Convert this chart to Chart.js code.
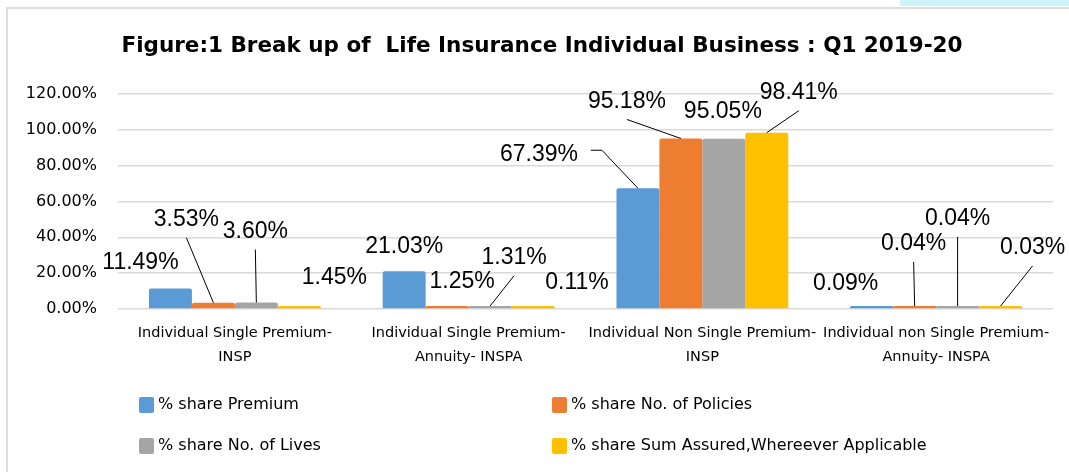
<!DOCTYPE html>
<html>
<head>
<meta charset="utf-8">
<title>Figure 1 - Break up of Life Insurance Individual Business Q1 2019-20</title>
<script src="https://cdn.jsdelivr.net/npm/chart.js@4.4.1/dist/chart.umd.min.js"></script>
<style>
  html, body { margin: 0; padding: 0; background: #fff; }
  #wrap { position: relative; width: 1069px; height: 472px; overflow: hidden; }
  #frame { position: absolute; left: 6px; top: 7px; width: 1100px; height: 500px;
           border-left: 2px solid #dcdcdc; border-top: 2px solid #dcdcdc; }
  #strip { position: absolute; left: 900px; top: 0; width: 169px; height: 6px; background: #cdf5f9; }
  #grafica { position: absolute; left: 0; top: 0; }
</style>
</head>
<body>
<div id="wrap">
  <div id="strip"></div>
  <div id="frame"></div>
  <canvas id="grafica" width="1069" height="472"></canvas>
</div>
<script>
// ---------------------------------------------
// Datos (en %)
// ---------------------------------------------
const categorias = [
    ['Individual Single Premium-', 'INSP'],
    ['Individual Single Premium-', 'Annuity- INSPA'],
    ['Individual Non Single Premium-', 'INSP'],
    ['Individual non Single Premium-', 'Annuity- INSPA']
];
const sharePremium    = [11.49, 21.03, 67.39, 0.09];
const sharePolicies   = [3.53, 1.25, 95.18, 0.04];
const shareLives      = [3.60, 1.31, 95.05, 0.04];
const shareSumAssured = [1.45, 0.11, 98.41, 0.03];

const nombresSeries = [
    '% share Premium',
    '% share No. of Policies',
    '% share No. of Lives',
    '% share Sum Assured,Whereever Applicable'
];
const coloresSeries = ['#5B9BD5', '#ED7D31', '#A5A5A5', '#FFC000'];

const yMin = 0, yMax = 120, yStep = 20;
const titulo = 'Figure:1 Break up of  Life Insurance Individual Business : Q1 2019-20';

// Colocación de etiquetas (px respecto a la parte superior de la barra) y tipo de línea guía
const posEtiquetas = [
    [[-30, -26, ''],     [0, -25, ''],      [-99, -34, 'side'], [-26, -25, '']],
    [[-27, -83, 'down'], [15, -25, ''],     [-54, -37, 'down'], [-1, -65, 'down']],
    [[-1, -71, 'down'],  [24, -49, 'down'], [-1, -27, ''],      [0, -90, 'down']],
    [[35, -29, ''],      [44, -26, ''],     [32, -40, 'down'],  [32, -61, 'down']]
];

const seriesDatos = [sharePremium, sharePolicies, shareLives, shareSumAssured];

// ---------------------------------------------
// Plugins: título, etiquetas de datos, leyenda
// ---------------------------------------------
const pluginTitulo = {
    id: 'titulo',
    afterDraw(chart) {
        const ctx = chart.ctx;
        ctx.save();
        ctx.font = 'bold 21.5px "DejaVu Sans"';
        ctx.fillStyle = '#000';
        ctx.textAlign = 'center';
        ctx.textBaseline = 'middle';
        ctx.fillText(titulo, 542, 46);
        ctx.restore();
    }
};

const pluginEtiquetas = {
    id: 'etiquetas',
    afterDatasetsDraw(chart) {
        const ctx = chart.ctx;
        const yScale = chart.scales.y;
        ctx.save();
        ctx.font = '23px "Liberation Sans"';
        ctx.fillStyle = '#000';
        ctx.strokeStyle = '#000';
        ctx.lineWidth = 1;
        ctx.textAlign = 'center';
        ctx.textBaseline = 'middle';
        chart.data.datasets.forEach((ds, i) => {
            const meta = chart.getDatasetMeta(i);
            meta.data.forEach((bar, j) => {
                const [dx, dy, guia] = posEtiquetas[i][j];
                const baseY = yScale.getPixelForValue(ds.data[j]);
                const lx = bar.x + dx;
                const ly = baseY + dy;
                ctx.fillText(ds.data[j].toFixed(2) + '%', lx, ly);
                if (guia === 'down') {
                    ctx.beginPath();
                    ctx.moveTo(lx, ly + 18);
                    ctx.lineTo(bar.x, bar.y);
                    ctx.stroke();
                } else if (guia === 'side') {
                    ctx.beginPath();
                    ctx.moveTo(lx + 52, ly - 4);
                    ctx.lineTo(lx + 63, ly - 4);
                    ctx.lineTo(bar.x, bar.y);
                    ctx.stroke();
                }
            });
        });
        ctx.restore();
    }
};

const pluginLeyenda = {
    id: 'leyenda',
    afterDraw(chart) {
        const ctx = chart.ctx;
        const columnas = [139, 552];
        const filas = [405, 446];
        ctx.save();
        ctx.font = '16px "DejaVu Sans"';
        ctx.textAlign = 'left';
        ctx.textBaseline = 'middle';
        chart.data.datasets.forEach((ds, i) => {
            const x = columnas[i % 2];
            const y = filas[Math.floor(i / 2)];
            ctx.fillStyle = ds.backgroundColor;
            ctx.beginPath();
            ctx.roundRect(x, y - 8, 15, 16, 2);
            ctx.fill();
            ctx.fillStyle = '#000';
            ctx.fillText(ds.label, x + 19, y);
        });
        ctx.restore();
    }
};

// ---------------------------------------------
// Gráfica
// ---------------------------------------------
const ctx = document.getElementById('grafica').getContext('2d');
new Chart(ctx, {
    type: 'bar',
    data: {
        labels: categorias,
        datasets: seriesDatos.map((d, i) => ({
            label: nombresSeries[i],
            data: d,
            backgroundColor: coloresSeries[i],
            borderRadius: 2,
            minBarLength: 3,
            categoryPercentage: 0.735,
            barPercentage: 1.0
        }))
    },
    options: {
        responsive: false,
        animation: false,
        layout: { padding: { top: 94, right: 16, left: 0, bottom: 0 } },
        scales: {
            x: {
                grid: { display: false, drawTicks: false },
                border: { display: false },
                ticks: {
                    autoSkip: false,
                    maxRotation: 0,
                    minRotation: 0,
                    padding: 13,
                    color: '#000',
                    font: { family: '"DejaVu Sans"', size: 14.5, lineHeight: 1.6 }
                },
                afterFit: s => { s.height = 163; }
            },
            y: {
                min: yMin,
                max: yMax,
                grid: { color: '#d9d9d9', lineWidth: 1.5, drawTicks: false },
                border: { display: false },
                ticks: {
                    stepSize: yStep,
                    padding: 21,
                    color: '#000',
                    font: { family: '"DejaVu Sans"', size: 16 },
                    callback: v => v.toFixed(2) + '%'
                },
                afterFit: s => { s.width = 118; }
            }
        },
        plugins: {
            legend: { display: false },
            tooltip: { enabled: false },
            title: { display: false }
        }
    },
    plugins: [pluginTitulo, pluginEtiquetas, pluginLeyenda]
});
</script>
</body>
</html>
